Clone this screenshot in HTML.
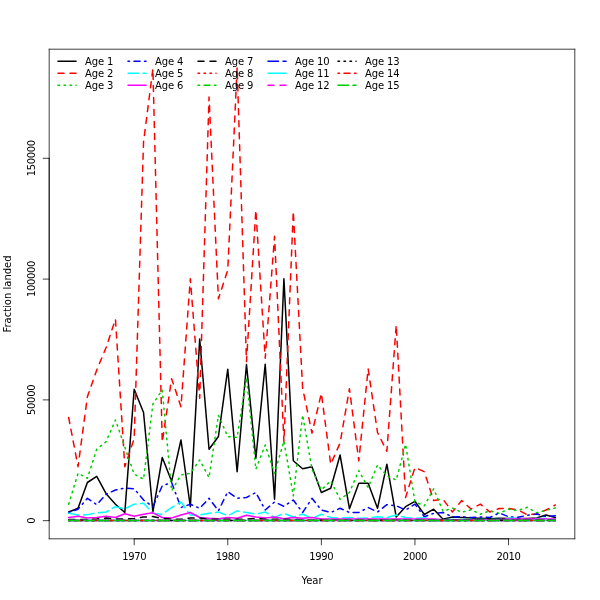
<!DOCTYPE html>
<html><head><meta charset="utf-8"><title>Fraction landed</title>
<style>
html,body{margin:0;padding:0;background:#fff;}
svg{display:block;}
text{font-family:"DejaVu Sans","Liberation Sans",sans-serif;font-size:10px;fill:#000;}
.n{letter-spacing:-0.36px;}
.g{letter-spacing:-0.13px;}
.s{fill:none;stroke-width:1.5;stroke-linecap:round;stroke-linejoin:round;}
.a{fill:none;stroke:#000;stroke-width:0.75;stroke-linecap:round;stroke-linejoin:round;}
</style></head><body>
<svg width="600" height="600" viewBox="0 0 600 600">
<rect width="600" height="600" fill="#fff"/>

<polyline class="s" stroke="#000000" points="68.67,512.00 78.03,508.30 87.38,482.50 96.74,476.30 106.10,493.70 115.46,504.20 124.82,512.50 134.18,389.20 143.54,412.50 152.90,511.80 162.26,457.50 171.62,481.30 180.97,440.00 190.33,506.70 199.69,339.00 209.05,449.20 218.41,436.50 227.77,369.20 237.13,471.70 246.49,364.50 255.85,458.30 265.21,364.20 274.56,499.20 283.92,278.75 293.28,460.80 302.64,468.70 312.00,466.70 321.36,492.50 330.72,488.30 340.08,455.00 349.44,508.70 358.79,483.30 368.15,483.30 377.51,508.30 386.87,464.20 396.23,517.00 405.59,506.70 414.95,501.30 424.31,514.50 433.67,509.20 443.03,519.20 452.38,517.00 461.74,517.50 471.10,518.00 480.46,518.30 489.82,518.70 499.18,518.30 508.54,518.50 517.90,518.50 527.26,518.50 536.62,518.00 545.97,515.00 555.33,517.50"/>
<polyline class="s" stroke="#FF0000" stroke-dasharray="6.0 6.0" points="68.67,417.50 78.03,466.70 87.38,396.70 96.74,370.00 106.10,347.50 115.46,319.20 124.82,466.70 134.18,438.50 143.54,142.00 152.90,68.75 162.26,442.00 171.62,378.70 180.97,406.70 190.33,278.75 199.69,398.30 209.05,97.00 218.41,298.75 227.77,270.00 237.13,67.50 246.49,361.60 255.85,210.00 265.21,358.30 274.56,236.25 283.92,442.00 293.28,211.25 302.64,388.30 312.00,433.20 321.36,393.30 330.72,464.20 340.08,443.00 349.44,388.75 358.79,460.80 368.15,368.75 377.51,432.50 386.87,451.30 396.23,325.00 405.59,497.50 414.95,467.50 424.31,471.70 433.67,500.50 443.03,499.20 452.38,512.00 461.74,500.50 471.10,509.00 480.46,504.20 489.82,512.00 499.18,508.50 508.54,508.30 517.90,510.00 527.26,514.70 536.62,514.00 545.97,510.00 555.33,505.00"/>
<polyline class="s" stroke="#00CD00" stroke-dasharray="1.5 4.5" points="68.67,504.20 78.03,473.30 87.38,478.30 96.74,449.20 106.10,441.70 115.46,420.00 124.82,447.00 134.18,474.20 143.54,479.20 152.90,404.00 162.26,390.00 171.62,490.80 180.97,475.00 190.33,473.30 199.69,460.00 209.05,477.50 218.41,415.30 227.77,436.60 237.13,437.40 246.49,377.50 255.85,469.20 265.21,445.00 274.56,473.30 283.92,441.00 293.28,495.80 302.64,415.00 312.00,469.20 321.36,490.00 330.72,480.80 340.08,499.30 349.44,492.50 358.79,470.60 368.15,487.50 377.51,465.00 386.87,475.80 396.23,480.00 405.59,444.30 414.95,501.70 424.31,505.80 433.67,488.80 443.03,511.30 452.38,508.00 461.74,512.30 471.10,509.70 480.46,514.20 489.82,510.80 499.18,513.30 508.54,509.20 517.90,510.50 527.26,507.30 536.62,512.70 545.97,510.40 555.33,508.00"/>
<polyline class="s" stroke="#0000FF" stroke-dasharray="1.5 4.5 6.0 4.5" points="68.67,512.50 78.03,509.20 87.38,498.30 96.74,504.70 106.10,494.20 115.46,490.00 124.82,488.00 134.18,488.70 143.54,500.00 152.90,506.70 162.26,485.80 171.62,482.50 180.97,507.50 190.33,504.20 199.69,508.30 209.05,498.30 218.41,510.80 227.77,491.70 237.13,498.30 246.49,497.50 255.85,492.50 265.21,510.00 274.56,502.00 283.92,506.30 293.28,500.00 302.64,512.50 312.00,498.30 321.36,510.00 330.72,512.50 340.08,508.30 349.44,512.50 358.79,512.50 368.15,507.50 377.51,512.00 386.87,504.70 396.23,505.80 405.59,510.00 414.95,504.20 424.31,516.70 433.67,513.30 443.03,512.50 452.38,517.00 461.74,516.70 471.10,517.50 480.46,517.00 489.82,517.50 499.18,513.00 508.54,516.70 517.90,517.30 527.26,515.30 536.62,514.00 545.97,516.70 555.33,515.70"/>
<polyline class="s" stroke="#00FFFF" stroke-dasharray="10.5 4.5" points="68.67,513.30 78.03,515.00 87.38,514.70 96.74,512.80 106.10,512.00 115.46,506.70 124.82,508.80 134.18,504.20 143.54,503.30 152.90,513.30 162.26,514.20 171.62,507.50 180.97,502.00 190.33,515.00 199.69,515.00 209.05,513.30 218.41,512.00 227.77,515.80 237.13,510.80 246.49,512.50 255.85,514.20 265.21,512.00 274.56,517.50 283.92,513.30 293.28,517.00 302.64,514.20 312.00,518.30 321.36,514.20 330.72,517.50 340.08,518.30 349.44,517.50 358.79,518.30 368.15,518.00 377.51,516.70 386.87,517.50 396.23,515.00 405.59,517.50 414.95,518.30 424.31,517.80 433.67,519.60 443.03,519.60 452.38,519.60 461.74,519.60 471.10,519.60 480.46,519.60 489.82,519.60 499.18,519.60 508.54,518.30 517.90,518.30 527.26,519.50 536.62,518.50 545.97,518.50 555.33,519.50"/>
<polyline class="s" stroke="#FF00FF" points="68.67,517.50 78.03,516.20 87.38,518.00 96.74,517.50 106.10,516.30 115.46,517.50 124.82,513.70 134.18,516.30 143.54,514.20 152.90,512.80 162.26,517.50 171.62,518.00 180.97,515.00 190.33,512.50 199.69,517.50 209.05,518.30 218.41,518.70 227.77,517.50 237.13,518.30 246.49,515.30 255.85,517.00 265.21,518.00 274.56,517.00 283.92,518.70 293.28,517.50 302.64,518.30 312.00,517.50 321.36,519.00 330.72,519.00 340.08,519.00 349.44,519.00 358.79,519.00 368.15,519.00 377.51,519.00 386.87,519.00 396.23,519.00 405.59,519.00 414.95,519.00 424.31,519.00 433.67,519.00 443.03,519.70 452.38,519.70 461.74,519.70 471.10,519.70 480.46,519.70 489.82,519.70 499.18,519.70 508.54,519.00 517.90,519.00 527.26,519.00 536.62,519.00 545.97,519.00 555.33,519.00"/>
<polyline class="s" stroke="#000000" stroke-dasharray="6.0 6.0" points="68.67,519.60 78.03,519.60 87.38,519.60 96.74,519.00 106.10,518.00 115.46,519.00 124.82,519.00 134.18,518.50 143.54,517.00 152.90,516.60 162.26,518.40 171.62,519.00 180.97,519.30 190.33,518.00 199.69,518.00 209.05,519.30 218.41,519.30 227.77,519.30 237.13,519.30 246.49,519.00 255.85,518.50 265.21,519.30 274.56,519.30 283.92,519.30 293.28,519.50 302.64,519.90 312.00,519.90 321.36,519.90 330.72,519.90 340.08,519.90 349.44,519.90 358.79,519.90 368.15,519.90 377.51,519.90 386.87,519.90 396.23,519.90 405.59,519.90 414.95,519.90 424.31,519.90 433.67,519.90 443.03,519.90 452.38,519.90 461.74,519.90 471.10,519.90 480.46,519.90 489.82,519.90 499.18,519.90 508.54,519.90 517.90,519.90 527.26,519.90 536.62,519.90 545.97,519.90 555.33,519.90"/>
<polyline class="s" stroke="#FF0000" stroke-dasharray="1.5 4.5" points="68.67,520.50 78.03,520.50 87.38,520.50 96.74,520.50 106.10,520.50 115.46,520.50 124.82,520.50 134.18,520.50 143.54,520.50 152.90,520.50 162.26,520.50 171.62,520.50 180.97,520.50 190.33,520.50 199.69,520.50 209.05,520.50 218.41,520.50 227.77,520.50 237.13,520.50 246.49,520.50 255.85,520.50 265.21,520.50 274.56,520.50 283.92,520.50 293.28,520.50 302.64,520.50 312.00,520.50 321.36,520.50 330.72,520.50 340.08,520.50 349.44,520.50 358.79,520.50 368.15,520.50 377.51,520.50 386.87,520.50 396.23,520.50 405.59,520.50 414.95,520.50 424.31,520.50 433.67,520.50 443.03,520.50 452.38,520.50 461.74,520.50 471.10,520.50 480.46,520.50 489.82,520.50 499.18,520.50 508.54,520.50 517.90,520.50 527.26,520.50 536.62,520.50 545.97,520.50 555.33,520.50"/>
<polyline class="s" stroke="#00CD00" stroke-dasharray="1.5 4.5 6.0 4.5" points="68.67,520.50 78.03,520.50 87.38,520.50 96.74,520.50 106.10,520.50 115.46,520.50 124.82,520.50 134.18,520.50 143.54,520.50 152.90,520.50 162.26,520.50 171.62,520.50 180.97,520.50 190.33,520.50 199.69,520.50 209.05,520.50 218.41,520.50 227.77,520.50 237.13,520.50 246.49,520.50 255.85,520.50 265.21,520.50 274.56,520.50 283.92,520.50 293.28,520.50 302.64,520.50 312.00,520.50 321.36,520.50 330.72,520.50 340.08,520.50 349.44,520.50 358.79,520.50 368.15,520.50 377.51,520.50 386.87,520.50 396.23,520.50 405.59,520.50 414.95,520.50 424.31,520.50 433.67,520.50 443.03,520.50 452.38,520.50 461.74,520.50 471.10,520.50 480.46,520.50 489.82,520.50 499.18,520.50 508.54,520.50 517.90,520.50 527.26,520.50 536.62,520.50 545.97,520.50 555.33,520.50"/>
<polyline class="s" stroke="#0000FF" stroke-dasharray="10.5 4.5" points="68.67,520.50 78.03,520.50 87.38,520.50 96.74,520.50 106.10,520.50 115.46,520.50 124.82,520.50 134.18,520.50 143.54,520.50 152.90,520.50 162.26,520.50 171.62,520.50 180.97,520.50 190.33,520.50 199.69,520.50 209.05,520.50 218.41,520.50 227.77,520.50 237.13,520.50 246.49,520.50 255.85,520.50 265.21,520.50 274.56,520.50 283.92,520.50 293.28,520.50 302.64,520.50 312.00,520.50 321.36,520.50 330.72,520.50 340.08,520.50 349.44,520.50 358.79,520.50 368.15,520.50 377.51,520.50 386.87,520.50 396.23,520.50 405.59,520.50 414.95,520.50 424.31,520.50 433.67,520.50 443.03,520.50 452.38,520.50 461.74,520.50 471.10,520.50 480.46,520.50 489.82,520.50 499.18,520.50 508.54,520.50 517.90,520.50 527.26,520.50 536.62,520.50 545.97,520.50 555.33,520.50"/>
<polyline class="s" stroke="#00FFFF" points="68.67,520.50 78.03,520.50 87.38,520.50 96.74,520.50 106.10,520.50 115.46,520.50 124.82,520.50 134.18,520.50 143.54,520.50 152.90,520.50 162.26,520.50 171.62,520.50 180.97,520.50 190.33,520.50 199.69,520.50 209.05,520.50 218.41,520.50 227.77,520.50 237.13,520.50 246.49,520.50 255.85,520.50 265.21,520.50 274.56,520.50 283.92,520.50 293.28,520.50 302.64,520.50 312.00,520.50 321.36,520.50 330.72,520.50 340.08,520.50 349.44,520.50 358.79,520.50 368.15,520.50 377.51,520.50 386.87,520.50 396.23,520.50 405.59,520.50 414.95,520.50 424.31,520.50 433.67,520.50 443.03,520.50 452.38,520.50 461.74,520.50 471.10,520.50 480.46,520.50 489.82,520.50 499.18,520.50 508.54,520.50 517.90,520.50 527.26,520.50 536.62,520.50 545.97,520.50 555.33,520.50"/>
<polyline class="s" stroke="#FF00FF" stroke-dasharray="6.0 6.0" points="68.67,520.50 78.03,520.50 87.38,520.50 96.74,520.50 106.10,520.50 115.46,520.50 124.82,520.50 134.18,520.50 143.54,520.50 152.90,520.50 162.26,520.50 171.62,520.50 180.97,520.50 190.33,520.50 199.69,520.50 209.05,520.50 218.41,520.50 227.77,520.50 237.13,520.50 246.49,520.50 255.85,520.50 265.21,520.50 274.56,520.50 283.92,520.50 293.28,520.50 302.64,520.50 312.00,520.50 321.36,520.50 330.72,520.50 340.08,520.50 349.44,520.50 358.79,520.50 368.15,520.50 377.51,520.50 386.87,520.50 396.23,520.50 405.59,520.50 414.95,520.50 424.31,520.50 433.67,520.50 443.03,520.50 452.38,520.50 461.74,520.50 471.10,520.50 480.46,520.50 489.82,520.50 499.18,520.50 508.54,520.50 517.90,520.50 527.26,520.50 536.62,520.50 545.97,520.50 555.33,520.50"/>
<polyline class="s" stroke="#000000" stroke-dasharray="1.5 4.5" points="68.67,520.50 78.03,520.50 87.38,520.50 96.74,520.50 106.10,520.50 115.46,520.50 124.82,520.50 134.18,520.50 143.54,520.50 152.90,520.50 162.26,520.50 171.62,520.50 180.97,520.50 190.33,520.50 199.69,520.50 209.05,520.50 218.41,520.50 227.77,520.50 237.13,520.50 246.49,520.50 255.85,520.50 265.21,520.50 274.56,520.50 283.92,520.50 293.28,520.50 302.64,520.50 312.00,520.50 321.36,520.50 330.72,520.50 340.08,520.50 349.44,520.50 358.79,520.50 368.15,520.50 377.51,520.50 386.87,520.50 396.23,520.50 405.59,520.50 414.95,520.50 424.31,520.50 433.67,520.50 443.03,520.50 452.38,520.50 461.74,520.50 471.10,520.50 480.46,520.50 489.82,520.50 499.18,520.50 508.54,520.50 517.90,520.50 527.26,520.50 536.62,520.50 545.97,520.50 555.33,520.50"/>
<polyline class="s" stroke="#FF0000" stroke-dasharray="1.5 4.5 6.0 4.5" points="68.67,520.50 78.03,520.50 87.38,520.50 96.74,520.50 106.10,520.50 115.46,520.50 124.82,520.50 134.18,520.50 143.54,520.50 152.90,520.50 162.26,520.50 171.62,520.50 180.97,520.50 190.33,520.50 199.69,520.50 209.05,520.50 218.41,520.50 227.77,520.50 237.13,520.50 246.49,520.50 255.85,520.50 265.21,520.50 274.56,520.50 283.92,520.50 293.28,520.50 302.64,520.50 312.00,520.50 321.36,520.50 330.72,520.50 340.08,520.50 349.44,520.50 358.79,520.50 368.15,520.50 377.51,520.50 386.87,520.50 396.23,520.50 405.59,520.50 414.95,520.50 424.31,520.50 433.67,520.50 443.03,520.50 452.38,520.50 461.74,520.50 471.10,520.50 480.46,520.50 489.82,520.50 499.18,520.50 508.54,520.50 517.90,520.50 527.26,520.50 536.62,520.50 545.97,520.50 555.33,520.50"/>
<polyline class="s" stroke="#00CD00" stroke-dasharray="10.5 4.5" points="68.67,520.50 78.03,520.50 87.38,520.50 96.74,520.50 106.10,520.50 115.46,520.50 124.82,520.50 134.18,520.50 143.54,520.50 152.90,520.50 162.26,520.50 171.62,520.50 180.97,520.50 190.33,520.50 199.69,520.50 209.05,520.50 218.41,520.50 227.77,520.50 237.13,520.50 246.49,520.50 255.85,520.50 265.21,520.50 274.56,520.50 283.92,520.50 293.28,520.50 302.64,520.50 312.00,520.50 321.36,520.50 330.72,520.50 340.08,520.50 349.44,520.50 358.79,520.50 368.15,520.50 377.51,520.50 386.87,520.50 396.23,520.50 405.59,520.50 414.95,520.50 424.31,520.50 433.67,520.50 443.03,520.50 452.38,520.50 461.74,520.50 471.10,520.50 480.46,520.50 489.82,520.50 499.18,520.50 508.54,520.50 517.90,520.50 527.26,520.50 536.62,520.50 545.97,520.50 555.33,520.50"/>
<path class="a" d="M134.18,538.8H508.54M134.18,538.8v6M227.77,538.8v6M321.36,538.8v6M414.95,538.8v6M508.54,538.8v6"/>
<path class="a" d="M49.2,520.67V158.30M49.2,520.67h-6M49.2,399.88h-6M49.2,279.09h-6M49.2,158.30h-6"/>
<text x="134.18" y="560.4" text-anchor="middle" class="n">1970</text>
<text x="227.77" y="560.4" text-anchor="middle" class="n">1980</text>
<text x="321.36" y="560.4" text-anchor="middle" class="n">1990</text>
<text x="414.95" y="560.4" text-anchor="middle" class="n">2000</text>
<text x="508.54" y="560.4" text-anchor="middle" class="n">2010</text>
<text transform="translate(34.8,520.67) rotate(-90)" text-anchor="middle" class="n">0</text>
<text transform="translate(34.8,399.88) rotate(-90)" text-anchor="middle" class="n">50000</text>
<text transform="translate(34.8,279.09) rotate(-90)" text-anchor="middle" class="n">100000</text>
<text transform="translate(34.8,158.30) rotate(-90)" text-anchor="middle" class="n">150000</text>
<path class="a" d="M49.2,49.2H574.8M574.8,49.2V538.8M574.8,538.8H49.2M49.2,538.8V49.2"/>
<text x="312.00" y="584.4" text-anchor="middle">Year</text>
<text transform="translate(10.8,294.00) rotate(-90)" text-anchor="middle">Fraction landed</text>
<path class="s" stroke="#000000" d="M58,61.2h18.05"/>
<text class="g" x="85" y="64.80">Age 1</text>
<path class="s" stroke="#FF0000" stroke-dasharray="6.0 6.0" d="M58,73.2h18.05"/>
<text class="g" x="85" y="76.80">Age 2</text>
<path class="s" stroke="#00CD00" stroke-dasharray="1.5 4.5" d="M58,85.2h18.05"/>
<text class="g" x="85" y="88.80">Age 3</text>
<path class="s" stroke="#0000FF" stroke-dasharray="1.5 4.5 6.0 4.5" d="M128,61.2h18.05"/>
<text class="g" x="155" y="64.80">Age 4</text>
<path class="s" stroke="#00FFFF" stroke-dasharray="10.5 4.5" d="M128,73.2h18.05"/>
<text class="g" x="155" y="76.80">Age 5</text>
<path class="s" stroke="#FF00FF" d="M128,85.2h18.05"/>
<text class="g" x="155" y="88.80">Age 6</text>
<path class="s" stroke="#000000" stroke-dasharray="6.0 6.0" d="M198,61.2h18.05"/>
<text class="g" x="225" y="64.80">Age 7</text>
<path class="s" stroke="#FF0000" stroke-dasharray="1.5 4.5" d="M198,73.2h18.05"/>
<text class="g" x="225" y="76.80">Age 8</text>
<path class="s" stroke="#00CD00" stroke-dasharray="1.5 4.5 6.0 4.5" d="M198,85.2h18.05"/>
<text class="g" x="225" y="88.80">Age 9</text>
<path class="s" stroke="#0000FF" stroke-dasharray="10.5 4.5" d="M268,61.2h18.05"/>
<text class="g" x="295" y="64.80">Age 10</text>
<path class="s" stroke="#00FFFF" d="M268,73.2h18.05"/>
<text class="g" x="295" y="76.80">Age 11</text>
<path class="s" stroke="#FF00FF" stroke-dasharray="6.0 6.0" d="M268,85.2h18.05"/>
<text class="g" x="295" y="88.80">Age 12</text>
<path class="s" stroke="#000000" stroke-dasharray="1.5 4.5" d="M338,61.2h18.05"/>
<text class="g" x="365" y="64.80">Age 13</text>
<path class="s" stroke="#FF0000" stroke-dasharray="1.5 4.5 6.0 4.5" d="M338,73.2h18.05"/>
<text class="g" x="365" y="76.80">Age 14</text>
<path class="s" stroke="#00CD00" stroke-dasharray="10.5 4.5" d="M338,85.2h18.05"/>
<text class="g" x="365" y="88.80">Age 15</text>
</svg></body></html>
